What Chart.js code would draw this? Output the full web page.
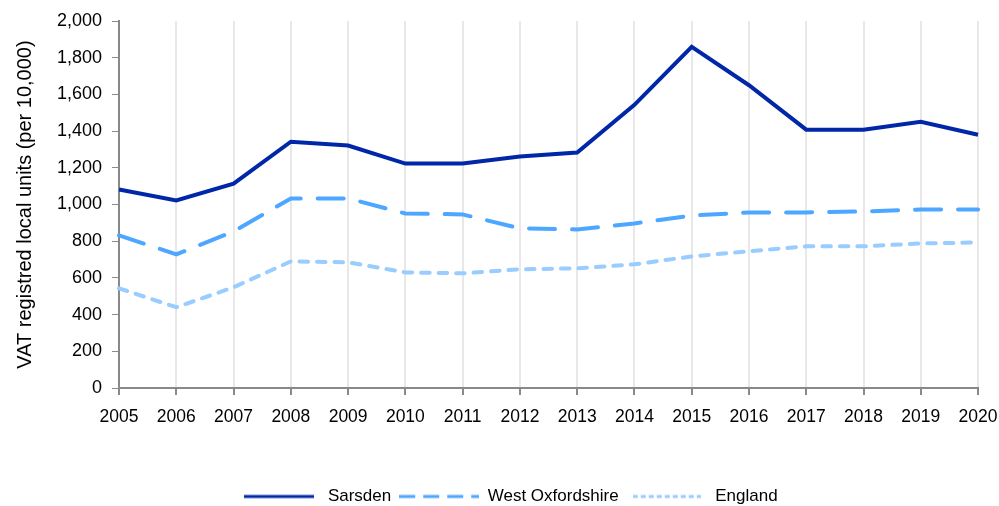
<!DOCTYPE html>
<html>
<head>
<meta charset="utf-8">
<script src="https://cdn.jsdelivr.net/npm/chart.js@4/dist/chart.umd.min.js"></script>
<style>
  html, body { margin: 0; padding: 0; background: #fff; }
  #wrap { width: 999px; height: 506px; }
</style>
</head>
<body>
<div id="wrap"><canvas id="myChart"></canvas></div>
<script>
// data
const years = ['2005', '2006', '2007', '2008', '2009', '2010', '2011', '2012',
    '2013', '2014', '2015', '2016', '2017', '2018', '2019', '2020'];
const sarsden = [1082, 1022, 1114, 1342, 1321, 1223, 1223, 1261, 1283, 1543, 1859, 1650, 1408, 1408, 1451, 1380];
const westOxfordshire = [832, 728, 853, 1033, 1033, 951, 946, 870, 864, 897, 940, 957, 957, 962, 973, 973];
const england = [543, 440, 549, 690, 685, 630, 625, 647, 652, 674, 717, 745, 772, 772, 788, 793];

Chart.defaults.font.family = '"Liberation Sans", Arial, sans-serif';
Chart.defaults.color = '#000';

// small line sample for the legend (keeps the dash pattern)
function legendLine(color, dash, w) {
    const c = document.createElement('canvas');
    c.width = w;
    c.height = 6;
    const g = c.getContext('2d');
    g.strokeStyle = color;
    g.lineWidth = 3;
    g.setLineDash(dash);
    g.beginPath();
    g.moveTo(0, 3);
    g.lineTo(w, 3);
    g.stroke();
    return c;
}

// move the legend a little (right and down) like the original
const nudgeLegend = {
    id: 'nudgeLegend',
    afterLayout(chart) {
        chart.legend.left += 4;
        chart.legend.right += 4;
        chart.legend.top += 9;
        chart.legend.bottom += 9;
    }
};

const data = {
    labels: years,
    datasets: [
        {
            label: 'Sarsden',
            data: sarsden,
            borderColor: '#0027A8',
            backgroundColor: '#0027A8',
            borderWidth: 4,
            pointRadius: 0,
            pointStyle: legendLine('#0027A8', [], 70)
        },
        {
            label: 'West Oxfordshire',
            data: westOxfordshire,
            borderColor: '#4DA6FF',
            backgroundColor: '#4DA6FF',
            borderWidth: 4,
            borderDash: [26, 17],
            borderCapStyle: 'round',
            pointRadius: 0,
            pointStyle: legendLine('#4DA6FF', [16, 8], 80)
        },
        {
            label: 'England',
            data: england,
            borderColor: '#99CCFF',
            backgroundColor: '#99CCFF',
            borderWidth: 4,
            borderDash: [8.5, 9],
            borderCapStyle: 'round',
            pointRadius: 0,
            pointStyle: legendLine('#99CCFF', [5, 3], 68)
        }
    ]
};

const config = {
    type: 'line',
    data: data,
    plugins: [nudgeLegend],
    options: {
        responsive: true,
        maintainAspectRatio: false,
        animation: false,
        layout: {
            padding: { left: 10, right: 0, top: 21, bottom: 0 }
        },
        plugins: {
            legend: {
                position: 'bottom',
                labels: {
                    usePointStyle: true,
                    pointStyleWidth: 80,
                    padding: 8,
                    font: { size: 17 }
                }
            },
            tooltip: { enabled: false }
        },
        scales: {
            x: {
                offset: false,
                grid: {
                    color: '#e8e8e8',
                    lineWidth: 2,
                    tickColor: '#898989',
                    tickLength: 7
                },
                border: { color: '#898989', width: 2 },
                ticks: {
                    maxRotation: 0,
                    autoSkip: false,
                    padding: 1.5,
                    font: { size: 17.5, lineHeight: 2.4 }
                },
                afterFit: function(scale) {
                    scale.height = 83;
                }
            },
            y: {
                min: 0,
                max: 2000,
                grid: {
                    drawOnChartArea: false,
                    tickColor: '#898989',
                    tickLength: 7
                },
                border: { color: '#898989', width: 2 },
                ticks: {
                    stepSize: 200,
                    padding: 10,
                    font: { size: 18 },
                    callback: function(v) { return v.toLocaleString('en-GB'); }
                },
                title: {
                    display: true,
                    text: 'VAT registred local units (per 10,000)',
                    font: { size: 20 },
                    padding: { top: 3, bottom: 10 }
                }
            }
        }
    }
};

let myChart = new Chart(document.getElementById('myChart'), config);
</script>
</body>
</html>
